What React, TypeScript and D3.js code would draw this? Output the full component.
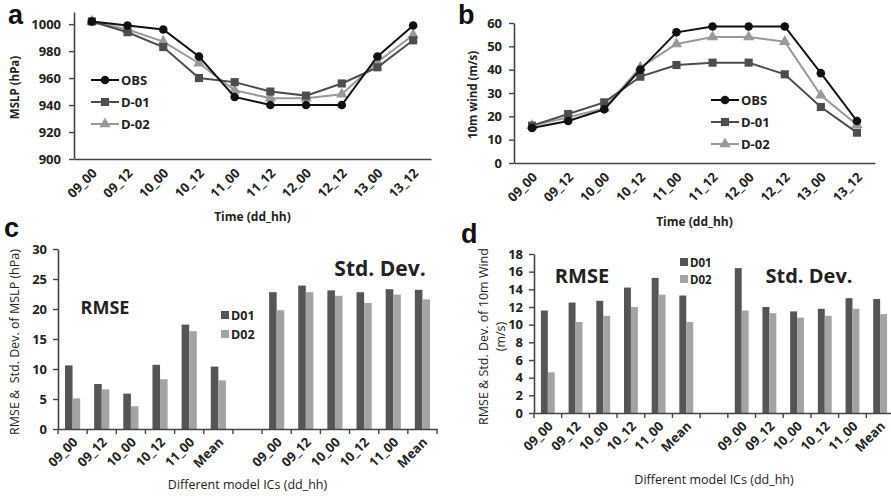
import * as d3 from 'd3';
import { useEffect, useRef } from 'react';

// panel a / b : time series
const times = ['09_00', '09_12', '10_00', '10_12', '11_00', '11_12', '12_00', '12_12', '13_00', '13_12'];
const mslpObs = [1002, 999, 996, 976, 946, 940, 940, 940, 976, 999];
const mslpD01 = [1002, 994, 983, 960, 957, 950, 947, 956, 968, 988];
const mslpD02 = [1002, 996, 987, 971, 951, 945, 945, 948, 972, 992];
const windObs = [15, 18, 23, 40, 56, 58.5, 58.5, 58.5, 38.5, 18];
const windD01 = [16, 21, 26, 37, 42, 43, 43, 38, 24, 13];
const windD02 = [16, 19.6, 23.4, 41, 51, 54, 54, 52, 29, 16.4];
const mslpTicks = [900, 920, 940, 960, 980, 1000];
const windTicks = [0, 10, 20, 30, 40, 50, 60];

// panel c / d : error statistics
const icLabels = ['09_00', '09_12', '10_00', '10_12', '11_00', 'Mean'];
const mslpRmseD01 = [10.6, 7.5, 5.9, 10.7, 17.4, 10.4];
const mslpRmseD02 = [5.1, 6.6, 3.8, 8.3, 16.3, 8.1];
const mslpSdD01 = [22.8, 23.9, 23.1, 22.8, 23.3, 23.2];
const mslpSdD02 = [19.8, 22.8, 22.2, 21.0, 22.4, 21.6];
const windRmseD01 = [11.6, 12.5, 12.7, 14.2, 15.3, 13.3];
const windRmseD02 = [4.6, 10.3, 11.0, 12.0, 13.4, 10.3];
const windSdD01 = [16.4, 12.0, 11.5, 11.8, 13.0, 12.9];
const windSdD02 = [11.6, 11.3, 10.8, 11.0, 11.8, 11.2];
const mslpErrTicks = [0, 5, 10, 15, 20, 25, 30];
const windErrTicks = [0, 2, 4, 6, 8, 10, 12, 14, 16, 18];

const FONT = "'Open Sans', Arial, sans-serif";
const AXIS = '#444';
const TXT = '#222';
const C_OBS = '#111';
const C_D01 = '#4d4d4d';
const C_D02 = '#999';
const BAR1 = '#555';
const BAR2 = '#a3a3a3';

const styleAxis = (g, fontSize) => {
    g.select('.domain').attr('stroke', AXIS).attr('stroke-width', 1.6);
    g.selectAll('line').attr('stroke', AXIS).attr('stroke-width', 1.4);
    g.selectAll('text')
        .style('font-family', FONT)
        .style('font-weight', 'bold')
        .style('font-size', fontSize)
        .attr('fill', TXT);
};

const marker = (g, type, color, cx, cy) => {
    if (type === 'circle') {
        g.append('circle').attr('cx', cx).attr('cy', cy).attr('r', 4.3).attr('fill', color);
    } else {
        const sym = type === 'square' ? d3.symbolSquare : d3.symbolTriangle;
        const size = type === 'square' ? 66 : 56;
        g.append('path')
            .attr('d', d3.symbol().type(sym).size(size)())
            .attr('transform', `translate(${cx},${cy})`)
            .attr('fill', color);
    }
};

const linePanel = (svg, p) => {
    const x = d3.scaleBand().domain(times).range([p.x0, p.x1]).paddingInner(0);
    const y = d3.scaleLinear().domain(p.yDomain).range([p.yBottom, p.yTop]);
    const cx = (t) => x(t) + x.bandwidth() / 2;

    const yAx = svg.append('g')
        .attr('transform', `translate(${p.x0},0)`)
        .call(d3.axisLeft(y).tickValues(p.ticks).tickSize(5).tickSizeOuter(0)
            .tickPadding(p.tickPad).tickFormat(d3.format('d')));
    styleAxis(yAx, '13px');

    const xAx = svg.append('g')
        .attr('transform', `translate(0,${p.yBottom})`)
        .call(d3.axisBottom(x).tickSize(0).tickSizeOuter(0));
    styleAxis(xAx, '13px');
    xAx.selectAll('text')
        .attr('y', 0).attr('dy', 0)
        .attr('transform', 'translate(6,15) rotate(-45)')
        .style('text-anchor', 'end');

    const series = [
        { vals: p.obs, color: C_OBS, type: 'circle', name: 'OBS' },
        { vals: p.d01, color: C_D01, type: 'square', name: 'D-01' },
        { vals: p.d02, color: C_D02, type: 'triangle', name: 'D-02' },
    ];
    const line = d3.line().x((d) => cx(d[0])).y((d) => y(d[1]));
    series.slice().reverse().forEach((s) => {
        const pts = times.map((t, i) => [t, s.vals[i]]);
        svg.append('path').attr('d', line(pts)).attr('fill', 'none')
            .attr('stroke', s.color).attr('stroke-width', 2);
        const mg = svg.append('g');
        pts.forEach((d) => marker(mg, s.type, s.color, cx(d[0]), y(d[1])));
    });

    // legend
    series.forEach((s, i) => {
        const ly = p.legY + i * p.legGap;
        const lg = svg.append('g');
        lg.append('line').attr('x1', p.legX).attr('x2', p.legX + 28).attr('y1', ly).attr('y2', ly)
            .attr('stroke', s.color).attr('stroke-width', 2);
        marker(lg, s.type, s.color, p.legX + 14, ly);
        lg.append('text').attr('x', p.legX + 30).attr('y', ly + 5)
            .style('font-family', FONT).style('font-weight', 'bold').style('font-size', '13px')
            .attr('fill', TXT).text(s.name);
    });

    svg.append('text').attr('transform', `translate(${p.yTitleX},${(p.yTop + p.yBottom) / 2 + 2}) rotate(-90)`)
        .attr('text-anchor', 'middle')
        .style('font-family', FONT).style('font-weight', 'bold').style('font-size', '11.5px')
        .attr('fill', TXT).text(p.yTitle);
    svg.append('text').attr('x', (p.x0 + p.x1) / 2).attr('y', p.xTitleY)
        .attr('text-anchor', 'middle')
        .style('font-family', FONT).style('font-weight', 'bold').style('font-size', '12px')
        .attr('fill', TXT).text('Time (dd_hh)');
};

const barPanel = (svg, p) => {
    const keys = [...icLabels.map((l) => `R|${l}`), 'gap|', ...icLabels.map((l) => `S|${l}`)];
    const x = d3.scaleBand().domain(keys).range([p.x0, p.x1]).paddingInner(0);
    const y = d3.scaleLinear().domain(p.yDomain).range([p.yBottom, p.yTop]);
    const bw = x.bandwidth() * p.barFrac;

    const rows = [
        ...icLabels.map((l, i) => ({ key: `R|${l}`, a: p.rmse1[i], b: p.rmse2[i] })),
        ...icLabels.map((l, i) => ({ key: `S|${l}`, a: p.sd1[i], b: p.sd2[i] })),
    ];
    const g = svg.append('g');
    g.selectAll('.b1').data(rows).enter().append('rect')
        .attr('x', (d) => x(d.key) + x.bandwidth() / 2 - bw)
        .attr('y', (d) => y(d.a)).attr('width', bw).attr('height', (d) => y(0) - y(d.a))
        .attr('fill', BAR1);
    g.selectAll('.b2').data(rows).enter().append('rect')
        .attr('x', (d) => x(d.key) + x.bandwidth() / 2)
        .attr('y', (d) => y(d.b)).attr('width', bw).attr('height', (d) => y(0) - y(d.b))
        .attr('fill', BAR2);

    const yAx = svg.append('g')
        .attr('transform', `translate(${p.x0},0)`)
        .call(d3.axisLeft(y).tickValues(p.ticks).tickSize(5).tickSizeOuter(0).tickPadding(6));
    styleAxis(yAx, '13px');

    const xAx = svg.append('g')
        .attr('transform', `translate(0,${p.yBottom})`)
        .call(d3.axisBottom(x).tickSize(0).tickSizeOuter(0).tickFormat((k) => k.split('|')[1]));
    styleAxis(xAx, '13px');
    xAx.selectAll('text')
        .attr('y', 0).attr('dy', 0)
        .attr('transform', 'translate(6,14) rotate(-45)')
        .style('text-anchor', 'end');
    // category boundary ticks
    const bounds = [...keys.map((k) => x(k)), p.x1];
    xAx.selectAll('.btick').data(bounds).enter().append('line')
        .attr('x1', (d) => d).attr('x2', (d) => d).attr('y1', 0).attr('y2', 5)
        .attr('stroke', AXIS).attr('stroke-width', 1.4);

    // legend
    [['D01', BAR1], ['D02', BAR2]].forEach(([name, col], i) => {
        const ly = p.legY + i * p.legGap;
        svg.append('rect').attr('x', p.legX).attr('y', ly - 4).attr('width', 8).attr('height', 8).attr('fill', col);
        svg.append('text').attr('x', p.legX + 10).attr('y', ly + 4.5)
            .style('font-family', FONT).style('font-weight', 'bold').style('font-size', p.legSize)
            .attr('fill', TXT).text(name);
    });

    svg.append('text').attr('x', p.rmseX).attr('y', p.rmseY).attr('text-anchor', 'middle')
        .style('font-family', FONT).style('font-weight', 'bold').style('font-size', p.rmseSize)
        .attr('fill', TXT).text('RMSE');
    svg.append('text').attr('x', p.sdX).attr('y', p.sdY).attr('text-anchor', 'middle')
        .style('font-family', FONT).style('font-weight', 'bold').style('font-size', p.sdSize)
        .attr('fill', TXT).text('Std. Dev.');

    p.yTitle.forEach((t, i) => {
        svg.append('text')
            .attr('transform', `translate(${p.yTitleX + i * 17},${(p.yTop + p.yBottom) / 2 + 3}) rotate(-90)`)
            .attr('text-anchor', 'middle')
            .style('font-family', FONT).style('font-size', '12.5px').style('white-space', 'pre')
            .attr('fill', TXT).text(t);
    });
    svg.append('text').attr('x', (p.x0 + p.x1) / 2).attr('y', p.xTitleY).attr('text-anchor', 'middle')
        .style('font-family', FONT).style('font-size', '12.5px')
        .attr('fill', TXT).text('Different model ICs (dd_hh)');
};

const App = () => {
    const ref = useRef(null);

    useEffect(() => {
        const svg = d3.select(ref.current);
        svg.selectAll('*').remove();

        linePanel(svg, {
            x0: 74, x1: 431, yTop: 12, yBottom: 159, yDomain: [900, 1009], ticks: mslpTicks,
            tickPad: 8, obs: mslpObs, d01: mslpD01, d02: mslpD02,
            legX: 91, legY: 80, legGap: 22, yTitle: 'MSLP (hPa)', yTitleX: 19, xTitleY: 221,
        });
        linePanel(svg, {
            x0: 514, x1: 875, yTop: 23, yBottom: 163, yDomain: [0, 60], ticks: windTicks,
            tickPad: 7, obs: windObs, d01: windD01, d02: windD02,
            legX: 711, legY: 100, legGap: 22, yTitle: '10m wind (m/s)', yTitleX: 477, xTitleY: 226,
        });
        barPanel(svg, {
            x0: 58, x1: 437, yTop: 249, yBottom: 429, yDomain: [0, 30], ticks: mslpErrTicks,
            rmse1: mslpRmseD01, rmse2: mslpRmseD02, sd1: mslpSdD01, sd2: mslpSdD02, barFrac: 0.26,
            legX: 221, legY: 315, legGap: 19, legSize: '12.5px',
            rmseX: 105, rmseY: 314, rmseSize: '18px', sdX: 380, sdY: 276, sdSize: '21px',
            yTitle: ['RMSE &  Std. Dev. of MSLP (hPa)'], yTitleX: 19, xTitleY: 489,
        });
        barPanel(svg, {
            x0: 534, x1: 894, yTop: 254, yBottom: 413, yDomain: [0, 18], ticks: windErrTicks,
            rmse1: windRmseD01, rmse2: windRmseD02, sd1: windSdD01, sd2: windSdD02, barFrac: 0.25,
            legX: 680, legY: 262, legGap: 17, legSize: '11.5px',
            rmseX: 582, rmseY: 283, rmseSize: '20px', sdX: 809, sdY: 283, sdSize: '20px',
            yTitle: ['RMSE & Std. Dev. of 10m Wind', '(m/s)'], yTitleX: 488, xTitleY: 484,
        });

        // panel letters
        [['a', 8, 24], ['b', 458, 24], ['c', 4, 237], ['d', 461, 243]].forEach(([t, lx, ly]) => {
            svg.append('text').attr('x', lx).attr('y', ly)
                .style('font-family', "Arial, 'Liberation Sans', sans-serif").style('font-weight', 'bold')
                .style('font-size', '27px').attr('fill', '#111').text(t);
        });
    }, []);

    return (
        <div style={{ position: 'absolute', left: 0, top: 0 }}>
            <svg ref={ref} width={891} height={498} style={{ display: 'block', background: '#fff' }} />
        </div>
    );
};

export default App;
